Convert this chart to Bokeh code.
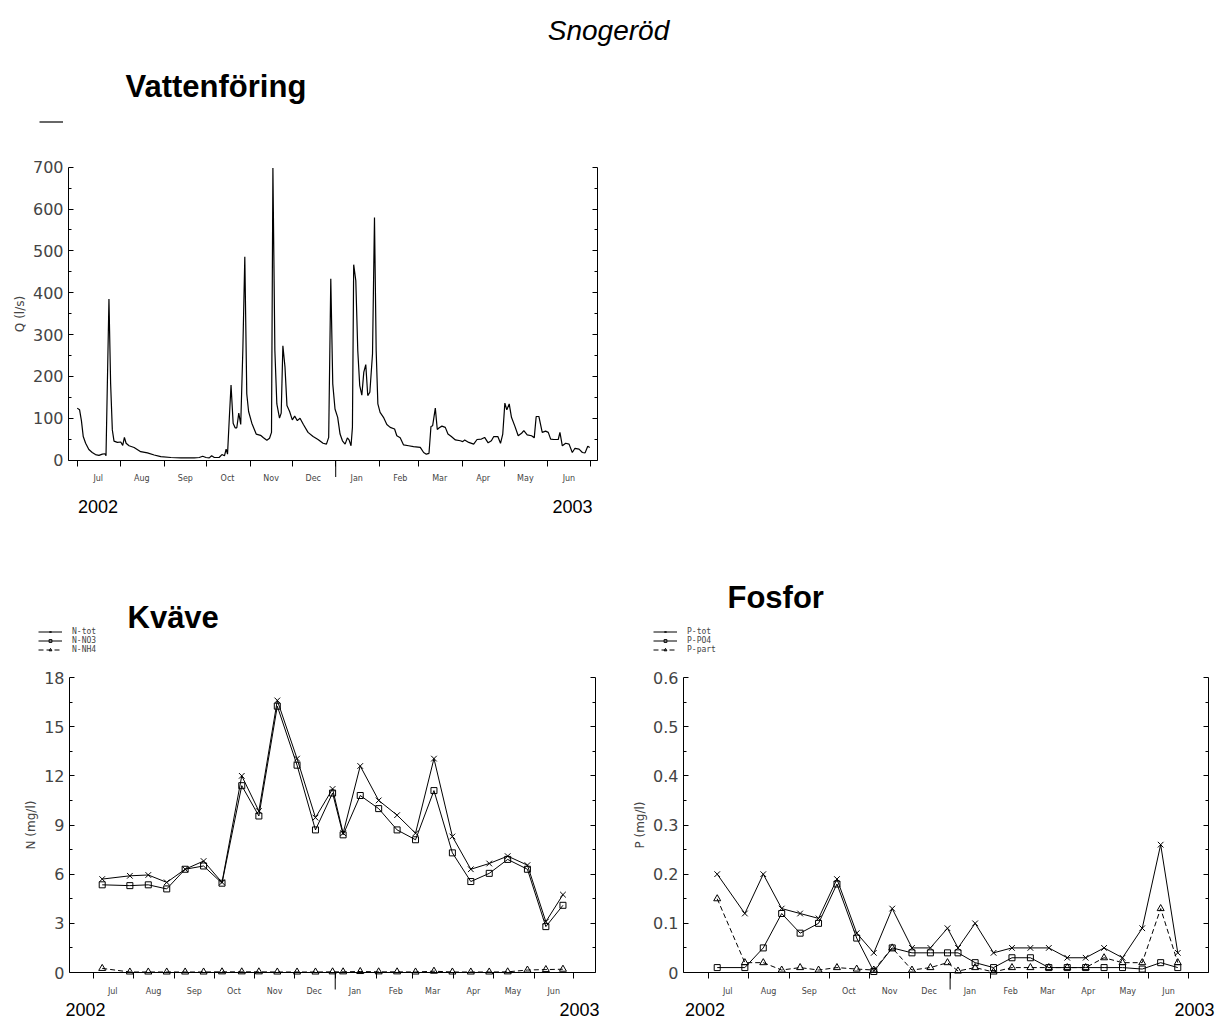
import pandas as pd
from bokeh.plotting import figure
from bokeh.models import (Range1d, LinearAxis, DatetimeAxis, FixedTicker,
                          DatetimeTickFormatter, CustomJSTickFormatter, Label, Legend, LegendItem, Arrow)
from bokeh.layouts import column, row
from bokeh.embed import file_html
from bokeh.resources import INLINE

# ---------------- data ----------------
# Vattenföring: days since 1 Jul 2002 and discharge (l/s)
Q_day = [0, 1.7, 3, 4.3, 6, 8.3, 10.7, 13, 15.5, 17.9,
         19.8, 20.5, 22.6, 23.8, 25, 26.2, 28.6, 31, 32.4, 33.6,
         34.8, 36.9, 40.5, 45.2, 50, 54.8, 59.5, 66.7, 73.8, 83.3,
         86.9, 89.3, 91.7, 94, 95.7, 97.6, 101, 103, 104.8, 106,
         107, 108.3, 109.5, 111, 112.4, 113.6, 115, 116.4, 117.9, 119.3,
         120.7, 122, 124.3, 127.4, 130.5, 132.6, 135, 136.9, 138.3, 139.3,
         140.7, 142.1, 144, 145.2, 146.4, 147.9, 149.3, 151.2, 153.1, 154.8,
         156.7, 158.6, 161, 164.3, 167.9, 171.4, 175, 177.4, 179, 180.5,
         181.9, 183.5, 185.4, 187.1, 188.8, 190.7, 192.3, 193.5, 194.9, 195.9,
         196.8, 198.3, 199.7, 201.1, 202.6, 204, 205.4, 206.8, 208.3, 210.2,
         211.6, 212.8, 214, 215.6, 218, 220.4, 222.8, 225.9, 227.5, 229.9,
         232.3, 235.9, 239.4, 244.2, 246.6, 248.5, 250.4, 251.8, 253, 254.9,
         256.3, 257.7, 259.6, 262, 263.9, 266.3, 269.2, 272.7, 274.4, 275.8,
         278.7, 282.2, 284.6, 287.7, 290, 292.5, 294.8, 296.5, 299.4, 301.3,
         302.9, 304.4, 305.8, 307.5, 309.1, 311.5, 313.9, 316.3, 317.9, 320.3,
         323.4, 325.3, 326.7, 328.6, 331, 333.4, 335.3, 337, 339.3, 342.4,
         343.6, 345.3, 347.7, 350.1, 352.4, 354.3, 357.2, 359.6, 361.5, 363.4,
         364.8]
Q_ls = [124, 120, 94, 56, 40, 25, 18, 13, 11, 14,
        15, 10, 385, 182, 72, 45, 42, 43, 35, 54,
        40, 34, 30, 20, 17, 12, 8, 6, 5, 5,
        6, 9, 6, 5, 10, 6, 6, 13, 10, 26,
        14, 102, 179, 88, 77, 77, 112, 85, 263, 486,
        158, 116, 88, 62, 59, 53, 47, 52, 66, 698,
        261, 134, 100, 112, 273, 222, 130, 116, 96, 105,
        94, 100, 85, 66, 56, 49, 40, 38, 54, 433,
        182, 122, 102, 62, 46, 38, 53, 48, 34, 78,
        467, 429, 262, 178, 155, 210, 228, 154, 162, 254,
        580, 262, 134, 114, 102, 85, 78, 74, 58, 53,
        36, 34, 32, 30, 18, 14, 16, 80, 82, 124,
        73, 77, 81, 78, 62, 56, 48, 46, 44, 48,
        42, 38, 49, 50, 54, 41, 46, 56, 56, 40,
        62, 136, 120, 134, 102, 81, 58, 64, 70, 60,
        58, 53, 104, 104, 66, 69, 66, 50, 49, 49,
        66, 34, 40, 38, 18, 28, 26, 18, 17, 33,
        30]

sample_dates = ["2002-07-08", "2002-07-29", "2002-08-12", "2002-08-26", "2002-09-09", "2002-09-23",
                "2002-10-07", "2002-10-22", "2002-11-04", "2002-11-18", "2002-12-03", "2002-12-17",
                "2002-12-30", "2003-01-07", "2003-01-20", "2003-02-03", "2003-02-17", "2003-03-03",
                "2003-03-17", "2003-03-31", "2003-04-14", "2003-04-28", "2003-05-12", "2003-05-27",
                "2003-06-10", "2003-06-23"]

N_tot = [5.7, 5.9, 5.95, 5.5, 6.3, 6.8, 5.5, 12.0, 9.85, 16.6, 13.05, 9.45, 11.2, 8.5,
         12.6, 10.5, 9.6, 8.5, 13.05, 8.3, 6.3, 6.65, 7.1, 6.55, 3.1, 4.75]
N_NO3 = [5.35, 5.3, 5.35, 5.1, 6.3, 6.5, 5.45, 11.4, 9.55, 16.25, 12.65, 8.7, 10.95, 8.4,
         10.8, 10.0, 8.7, 8.1, 11.1, 7.3, 5.55, 6.05, 6.9, 6.3, 2.8, 4.1]
N_NH4 = [0.25, 0.03, 0.03, 0.03, 0.03, 0.03, 0.04, 0.04, 0.04, 0.03, 0.03, 0.03, 0.04, 0.04,
         0.06, 0.04, 0.04, 0.03, 0.08, 0.03, 0.03, 0.03, 0.04, 0.15, 0.18, 0.2]

P_tot = [0.20, 0.12, 0.20, 0.13, 0.12, 0.11, 0.19, 0.08, 0.04, 0.13, 0.05, 0.05, 0.09, 0.05,
         0.10, 0.04, 0.05, 0.05, 0.05, 0.03, 0.03, 0.05, 0.03, 0.09, 0.26, 0.04]
P_PO4 = [0.01, 0.01, 0.05, 0.12, 0.08, 0.10, 0.18, 0.07, 0.002, 0.05, 0.04, 0.04, 0.04, 0.04,
         0.02, 0.01, 0.03, 0.03, 0.01, 0.01, 0.01, 0.01, 0.01, 0.007, 0.02, 0.01]
P_part = [0.15, 0.02, 0.02, 0.005, 0.01, 0.005, 0.01, 0.007, 0.005, 0.05, 0.005, 0.01, 0.02, 0.003,
          0.01, 0.001, 0.01, 0.01, 0.01, 0.01, 0.01, 0.03, 0.02, 0.02, 0.13, 0.02]

year_labels = ["2002", "2003"]

# ---------------- helpers ----------------
T0 = "2002-07-01"
T1 = "2003-07-01"


def ms(ts):
    return pd.Timestamp(ts).timestamp() * 1000.0


month_starts = pd.date_range(T0, T1, freq="MS")
starts_ms = [ms(t) for t in month_starts]
mids_ms = [ms(t + pd.Timedelta(days=15)) for t in month_starts[:-1]]
jan_ms = ms("2003-01-01")

q_x = [ms(pd.Timestamp(T0) + pd.Timedelta(days=d)) for d in Q_day]
s_x = [ms(d) for d in sample_dates]

TICK_FONT = "DejaVu Sans"


def make_chart(W, H, px_jul02, px_jul03, px_left, px_right, py_zero, py_top,
               y_max, y_step, ylabel, overrides=None):
    # pixel layout -> range so that the whole canvas is the frame
    xa_, xb_ = ms(T0), ms(T1)
    s = (xb_ - xa_) / (px_jul03 - px_jul02)

    def x_at(px):
        return xa_ + (px - px_jul02) * s

    t = y_max / (py_zero - py_top)
    y_start = -(H - py_zero) * t
    y_end = y_max + py_top * t

    p = figure(width=W, height=H, x_range=Range1d(x_at(0), x_at(W)), y_range=Range1d(y_start, y_end),
               x_axis_type=None, y_axis_type=None, toolbar_location=None, output_backend="svg",
               min_border_left=0, min_border_right=0, min_border_top=0, min_border_bottom=0)
    p.title.visible = False
    p.outline_line_color = None
    p.background_fill_color = "white"
    p.border_fill_color = "white"

    x_left, x_right = x_at(px_left), x_at(px_right)

    fmt = DatetimeTickFormatter(days="%b", months="%b", years="%b")
    xa = DatetimeAxis(ticker=FixedTicker(ticks=mids_ms, minor_ticks=starts_ms), formatter=fmt)
    xa.fixed_location = 0
    xa.bounds = (x_left, x_right)
    xa.major_tick_in = 0
    xa.major_tick_out = 0
    xa.minor_tick_in = 0
    xa.minor_tick_out = 6
    xa.major_label_text_font = TICK_FONT
    xa.major_label_text_font_size = "8px"
    xa.major_label_standoff = 8
    xa.axis_line_color = "black"
    xa.minor_tick_line_color = "black"
    p.add_layout(xa, "below")

    n = int(round(y_max / y_step))
    majors = [round(i * y_step, 6) for i in range(n + 1)]
    minors = [round((i + 0.5) * y_step, 6) for i in range(n)]

    ya = LinearAxis(ticker=FixedTicker(ticks=majors, minor_ticks=minors), axis_label=ylabel)
    ya.fixed_location = x_left
    ya.bounds = (0, y_max)
    ya.major_tick_in = 5
    ya.major_tick_out = 0
    ya.minor_tick_in = 3
    ya.minor_tick_out = 0
    ya.major_label_text_font = TICK_FONT
    ya.major_label_text_font_size = "16px"
    ya.major_label_standoff = 5
    ya.axis_label_text_font = TICK_FONT
    ya.axis_label_text_font_size = "12px"
    ya.axis_label_text_font_style = "normal"
    ya.axis_label_standoff = 3
    if overrides:
        ya.major_label_overrides = overrides
    p.add_layout(ya, "left")

    ra = LinearAxis(ticker=FixedTicker(ticks=majors, minor_ticks=minors),
                    formatter=CustomJSTickFormatter(code="return ''"))
    ra.fixed_location = x_right
    ra.bounds = (0, y_max)
    ra.major_tick_in = 5
    ra.major_tick_out = 0
    ra.minor_tick_in = 3
    ra.minor_tick_out = 0
    ra.major_label_standoff = 0
    p.add_layout(ra, "right")

    # longer tick at the turn of the year
    p.add_layout(Arrow(end=None, x_start=jan_ms, y_start=0, x_end=jan_ms, y_end=-17 * t,
                       line_color="black", line_width=1))
    return p


def add_text(p, x, y, text, size, style="normal", align="left", font="Liberation Sans"):
    p.add_layout(Label(x=x, y=y, x_units="screen", y_units="screen", text=text, text_font=font,
                       text_font_size=size, text_font_style=style, text_align=align,
                       text_baseline="middle", text_color="black"))


def add_legend(p, items, x, y):
    lg = Legend(items=items, location=(x, y), orientation="vertical")
    lg.label_text_font = "DejaVu Sans Mono"
    lg.label_text_font_size = "8px"
    lg.glyph_width = 24
    lg.glyph_height = 7
    lg.label_height = 7
    lg.label_standoff = 10
    lg.spacing = 0
    lg.padding = 0
    lg.margin = 0
    lg.border_line_alpha = 0
    lg.background_fill_alpha = 0
    p.add_layout(lg)


# ---------------- top chart: Vattenföring ----------------
W1, H1 = 1217, 540
p1 = make_chart(W1, H1, 76.7, 589.5, 68, 597, 459.5, 166.7, 700, 100, "Q (l/s)")
q_line = p1.line(q_x, Q_ls, line_color="black", line_width=1.2)
add_text(p1, 608, H1 - 30, "Snogeröd", "28px", style="italic", align="center")
add_text(p1, 125, H1 - 86, "Vattenföring", "31px", style="bold")
add_legend(p1, [LegendItem(label=" ", renderers=[q_line])], 39, H1 - 125)
add_text(p1, 77.5, H1 - 506, year_labels[0], "18px")
add_text(p1, 592, H1 - 506, year_labels[1], "18px", align="right")

# ---------------- bottom left: Kväve ----------------
W2, H2 = 612, 480
Y0 = 540
p2 = make_chart(W2, H2, 92.5, 573, 69, 594.5, 972 - Y0, 677 - Y0, 18, 3, "N (mg/l)")
l_tot = p2.line(s_x, N_tot, line_color="black", line_width=1)
m_tot = p2.scatter(s_x, N_tot, marker="x", size=8, line_color="black")
l_no3 = p2.line(s_x, N_NO3, line_color="black", line_width=1)
m_no3 = p2.scatter(s_x, N_NO3, marker="square", size=6, line_color="black", fill_color=None)
l_nh4 = p2.line(s_x, N_NH4, line_color="black", line_width=1, line_dash="5 3")
m_nh4 = p2.scatter(s_x, N_NH4, marker="triangle", size=7, line_color="black", fill_color=None)
add_text(p2, 127, H2 - (617 - Y0), "Kväve", "31px", style="bold")
add_legend(p2, [LegendItem(label="N-tot", renderers=[l_tot, m_tot]),
                LegendItem(label="N-NO3", renderers=[l_no3, m_no3]),
                LegendItem(label="N-NH4", renderers=[l_nh4, m_nh4])], 38, H2 - (654 - Y0))
add_text(p2, 65, H2 - (1009 - Y0), year_labels[0], "18px")
add_text(p2, 599, H2 - (1009 - Y0), year_labels[1], "18px", align="right")

# ---------------- bottom right: Fosfor ----------------
W3, H3 = 605, 480
X3 = 612
p3 = make_chart(W3, H3, 707.5 - X3, 1187.8 - X3, 683 - X3, 1208 - X3, 972 - Y0, 677 - Y0,
                0.6, 0.1, "P (mg/l)", overrides={0: "0"})
k_tot = p3.line(s_x, P_tot, line_color="black", line_width=1)
n_tot = p3.scatter(s_x, P_tot, marker="x", size=8, line_color="black")
k_po4 = p3.line(s_x, P_PO4, line_color="black", line_width=1)
n_po4 = p3.scatter(s_x, P_PO4, marker="square", size=6, line_color="black", fill_color=None)
k_part = p3.line(s_x, P_part, line_color="black", line_width=1, line_dash="5 3")
n_part = p3.scatter(s_x, P_part, marker="triangle", size=7, line_color="black", fill_color=None)
add_text(p3, 727 - X3, H3 - (597 - Y0), "Fosfor", "31px", style="bold")
add_legend(p3, [LegendItem(label="P-tot", renderers=[k_tot, n_tot]),
                LegendItem(label="P-PO4", renderers=[k_po4, n_po4]),
                LegendItem(label="P-part", renderers=[k_part, n_part])], 653 - X3, H3 - (654 - Y0))
add_text(p3, 684.5 - X3, H3 - (1009 - Y0), year_labels[0], "18px")
add_text(p3, 1214 - X3, H3 - (1009 - Y0), year_labels[1], "18px", align="right")

layout = column(p1, row(p2, p3))
open("out.html", "w").write(file_html(layout, INLINE))
